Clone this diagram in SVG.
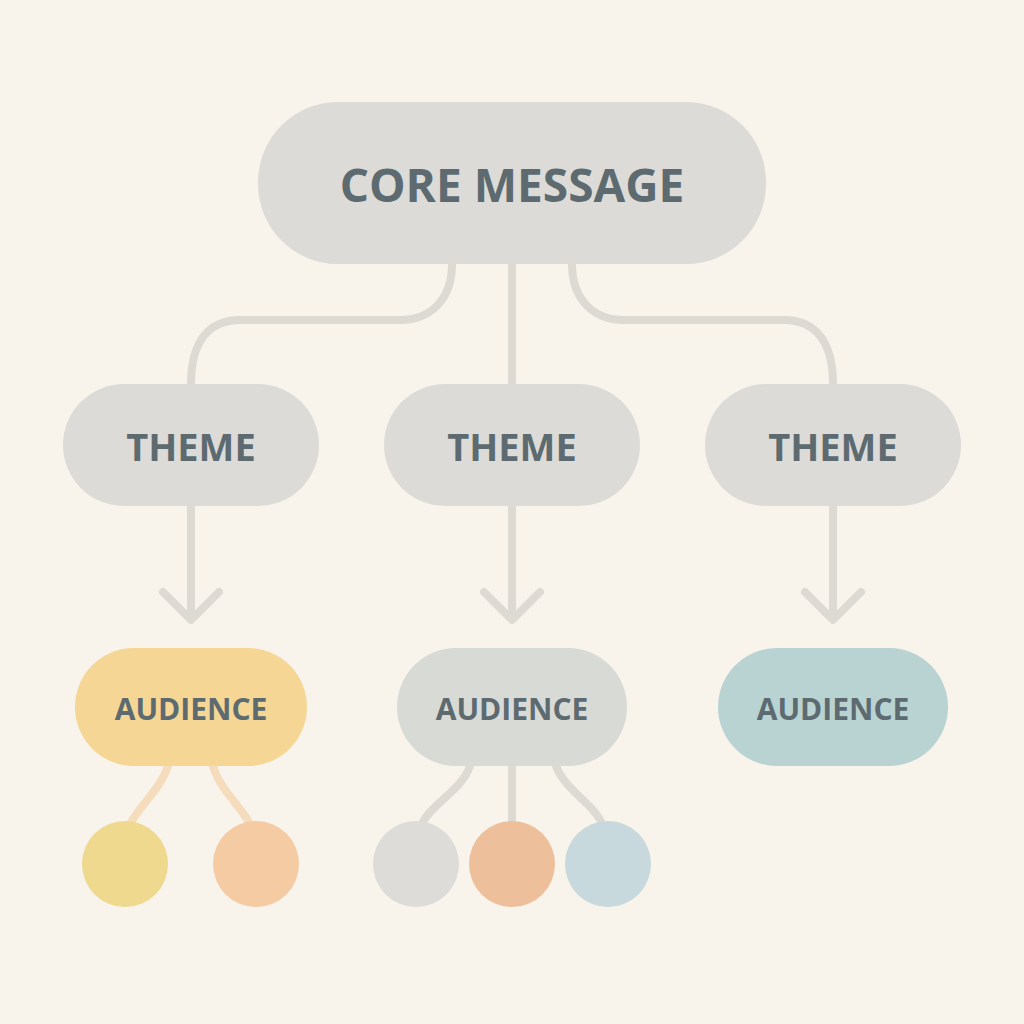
<svg xmlns="http://www.w3.org/2000/svg" width="1024" height="1024" viewBox="0 0 1024 1024">
<style>
.t{font-family:"Open Sans","Liberation Sans",sans-serif;font-weight:bold;fill:#5d6b71;text-anchor:middle;dominant-baseline:central}
.c{fill:none;stroke:#dddad4;stroke-width:8;stroke-linecap:round;stroke-linejoin:round}
</style>
<rect width="1024" height="1024" fill="#f8f3eb"/>
<g id="connectors">
<path class="c" d="M452,264 C452,300 430,320 400,320 L240,320 C210,320 191,340 191,384"/>
<path class="c" d="M512,264 L512,384"/>
<path class="c" d="M572,264 C572,300 594,320 624,320 L784,320 C814,320 833,340 833,384"/>
<path class="c" d="M191,506 V618 M163,592 L191,620 L219,592"/>
<path class="c" d="M512,506 V618 M484,592 L512,620 L540,592"/>
<path class="c" d="M833,506 V618 M805,592 L833,620 L861,592"/>
<path class="c" style="stroke:#f5dcbc" d="M168,766 C160,790 140,805 130,824 M213,766 C220,790 240,805 250,824"/>
<path class="c" d="M470,766 C462,790 430,805 422,824 M512,766 V824 M556,766 C565,790 595,805 602,824"/>
</g>
<g id="core"><rect x="258" y="102" width="508" height="162" rx="80" fill="#dcdbd7"/><text class="t" x="512" y="184" font-size="46">CORE MESSAGE</text></g>
<g id="theme1"><rect x="63" y="384" width="256" height="122" rx="61" fill="#dcdbd7"/><text class="t" x="191" y="446" font-size="38">THEME</text></g>
<g id="theme2"><rect x="384" y="384" width="256" height="122" rx="61" fill="#dcdbd7"/><text class="t" x="512" y="446" font-size="38">THEME</text></g>
<g id="theme3"><rect x="705" y="384" width="256" height="122" rx="61" fill="#dcdbd7"/><text class="t" x="833" y="446" font-size="38">THEME</text></g>
<g id="aud1"><rect x="75" y="648" width="232" height="118" rx="59" fill="#f5d694"/><text class="t" x="191" y="708" font-size="30">AUDIENCE</text></g>
<g id="aud2"><rect x="397" y="648" width="230" height="118" rx="59" fill="#d8dad5"/><text class="t" x="512" y="708" font-size="30">AUDIENCE</text></g>
<g id="aud3"><rect x="718" y="648" width="230" height="118" rx="59" fill="#b9d3d3"/><text class="t" x="833" y="708" font-size="30">AUDIENCE</text></g>
<g id="c1"><circle cx="125" cy="864" r="43" fill="#efd98e"/></g>
<g id="c2"><circle cx="256" cy="864" r="43" fill="#f5cba3"/></g>
<g id="c3"><circle cx="416" cy="864" r="43" fill="#dddcd8"/></g>
<g id="c4"><circle cx="512" cy="864" r="43" fill="#eebf9b"/></g>
<g id="c5"><circle cx="608" cy="864" r="43" fill="#c7d9dc"/></g>
</svg>
